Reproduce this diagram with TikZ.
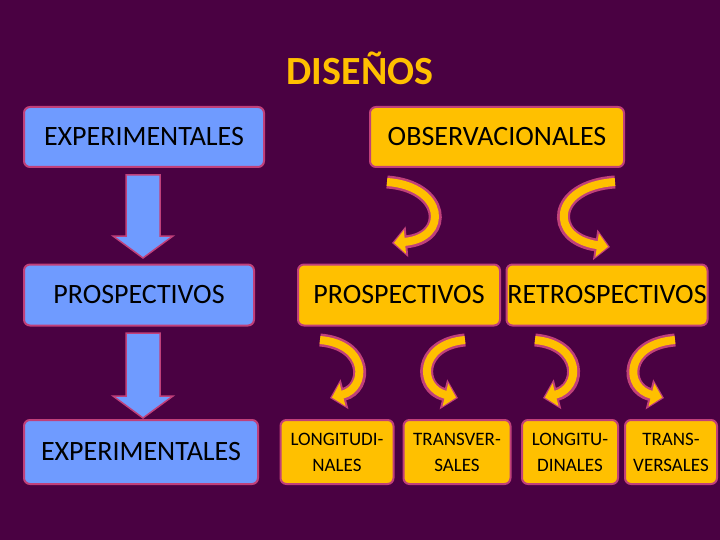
\documentclass[tikz,border=0pt]{standalone}
\usepackage{fontspec}
\setmainfont{Carlito}
\usetikzlibrary{arrows.meta,calc}
\definecolor{bg}{HTML}{4A0142}
\definecolor{edge}{HTML}{C0407A}
\definecolor{blu}{HTML}{6F9BFF}
\definecolor{yel}{HTML}{FFC000}
\tikzset{
 box/.style={draw=edge,line width=2pt,rounded corners=6pt,inner sep=0pt,font=\fontsize{28}{30}\selectfont,align=center},
 bbox/.style={box,fill=blu},
 ybox/.style={box,fill=yel},
 sbox/.style={box,fill=yel,font=\fontsize{19}{26}\selectfont},
 ribo/.style={draw=edge,line width=13pt,-{Triangle[length=15pt,width=30pt]}},
 ribi/.style={draw=yel,line width=8pt,shorten >=2pt,-{Triangle[length=11pt,width=23pt]}},
 barrow/.style={fill=blu,draw=edge,line width=1.5pt},
}
\newcommand{\ribbon}[4]{\draw[ribo] #1 .. controls #2 and #3 .. #4;\draw[ribi] #1 .. controls #2 and #3 .. #4;}
\newcommand{\blockarrow}[2]{\filldraw[barrow] ($(#1)+(-17,0)$) -- ($(#1)+(17,0)$) -- ($(#2)+(17,-22)$) -- ($(#2)+(30,-22)$) -- (#2) -- ($(#2)+(-30,-22)$) -- ($(#2)+(-17,-22)$) -- cycle;}
\begin{document}
\begin{tikzpicture}[x=1pt,y=-1pt]
\fill[bg] (0,0) rectangle (720,540);
\node[text=yel,font=\bfseries\fontsize{40}{42}\selectfont] (t) at (360,68) {DISEÑOS};
\node[bbox,minimum width=240,minimum height=60] (e1) at (144,137) {EXPERIMENTALES};
\node[ybox,minimum width=254,minimum height=60] (o) at (497,137) {OBSERVACIONALES};
\node[bbox,minimum width=230,minimum height=61] (p1) at (139,295) {PROSPECTIVOS};
\node[ybox,minimum width=202,minimum height=61] (p2) at (399,295) {PROSPECTIVOS};
\node[ybox,minimum width=201,minimum height=61] (r) at (607,295) {RETROSPECTIVOS};
\node[bbox,minimum width=234,minimum height=64] (e2) at (141,452) {EXPERIMENTALES};
\node[sbox,minimum width=113,minimum height=64] (l1) at (337,452) {LONGITUDI-\\NALES};
\node[sbox,minimum width=107,minimum height=64] (t1) at (457,452) {TRANSVER-\\SALES};
\node[sbox,minimum width=96,minimum height=64] (l2) at (570,452) {LONGITU-\\DINALES};
\node[sbox,minimum width=92,minimum height=64] (t2) at (671,452) {TRANS-\\VERSALES};
\coordinate (a1s) at (143,175);
\coordinate (a1e) at (143,258);
\coordinate (a2s) at (143,333);
\coordinate (a2e) at (143,418);
\blockarrow{a1s}{a1e}
\blockarrow{a2s}{a2e}
\ribbon{(387,182)}{(445,186)}{(450,238)}{(392,243)}
\ribbon{(615,182)}{(552,186)}{(548,238)}{(610,247)}
\ribbon{(320,340)}{(368,344)}{(368,388)}{(330,398)}
\ribbon{(465,340)}{(418,344)}{(418,388)}{(458,398)}
\ribbon{(535,340)}{(582,344)}{(582,388)}{(543,398)}
\ribbon{(675,340)}{(624,344)}{(624,388)}{(664,398)}
\end{tikzpicture}
\end{document}
